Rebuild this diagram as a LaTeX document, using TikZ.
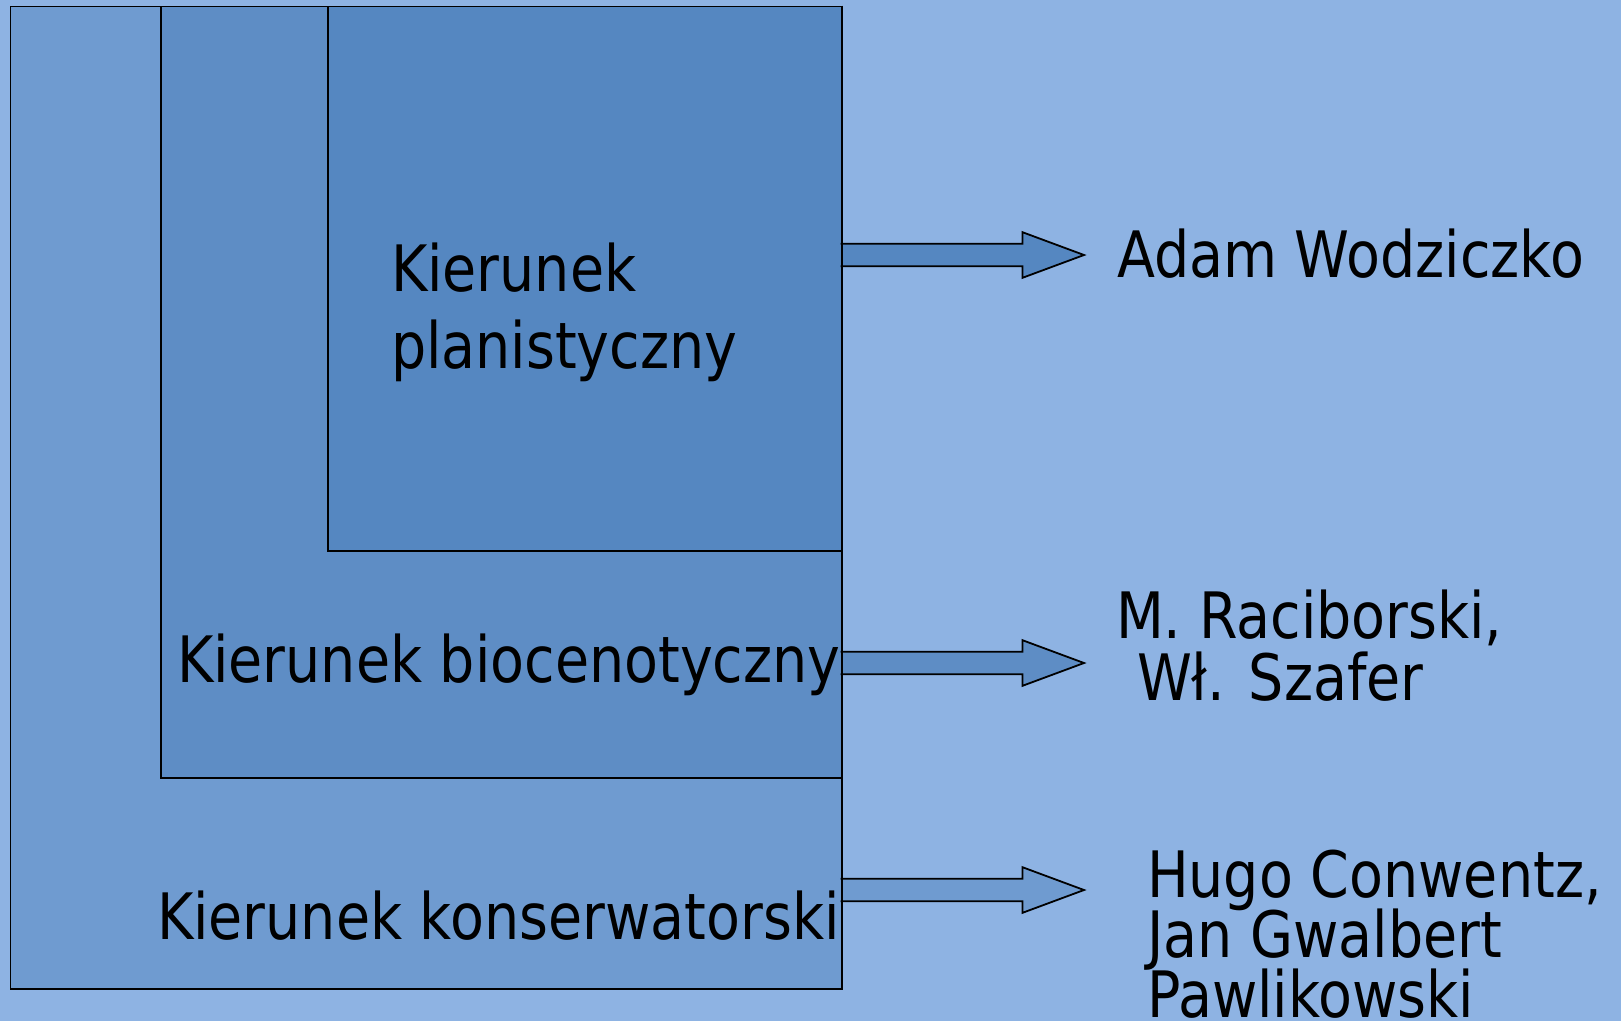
\documentclass[tikz,border=0pt]{standalone}
\usepackage{fontspec}
\setmainfont[FakeStretch=0.867]{DejaVu Sans}
\definecolor{bgc}{HTML}{8EB3E3}
\definecolor{outerc}{HTML}{6F9BD0}
\definecolor{midc}{HTML}{5E8DC5}
\definecolor{innerc}{HTML}{5587C1}
\tikzset{
  boxst/.style={draw=black, line width=1.8pt},
  blockarrow/.style={draw=black, line width=1.8pt, line join=miter},
  lbl/.style={anchor=base west, inner sep=0pt, outer sep=0pt, text=black,
    font=\fontsize{64}{77}\selectfont},
}
\begin{document}
\begin{tikzpicture}[x=1pt,y=-1pt]
\fill[bgc] (0,0) rectangle (1621,1021);
\useasboundingbox (0,0) rectangle (1621,1021);
% nested boxes
\node[boxst, fill=outerc, minimum width=831pt, minimum height=982.8pt, anchor=north west, inner sep=0pt] (outer) at (9.5,5.5) {};
\node[boxst, fill=midc, minimum width=680.5pt, minimum height=771.2pt, anchor=north west, inner sep=0pt] (mid) at (160,5.5) {};
\node[boxst, fill=innerc, minimum width=513.5pt, minimum height=544.5pt, anchor=north west, inner sep=0pt] (inner) at (327,5.5) {};
% box labels
\node[lbl] (plan1) at (391,291) {Kierunek};
\node[lbl] (plan2) at (391,368) {planistyczny};
\node[lbl] (bio) at (177,682) {Kierunek biocenotyczny};
\node[lbl] (kons) at (157,939) {Kierunek konserwatorski};
% right labels
\node[lbl] (adam) at (1117,277) {Adam Wodziczko};
\node[lbl] (rac1) at (1116,638) {M. Raciborski,};
\node[lbl] (rac2) at (1137,700) {Wł. Szafer};
\node[lbl] (hugo1) at (1147,897) {Hugo Conwentz,};
\node[lbl] (hugo2) at (1147,957) {Jan Gwalbert};
\node[lbl] (hugo3) at (1147,1017) {Pawlikowski};
% arrow start points on the common right edge
\coordinate (s1) at (840.5,255);
\coordinate (s2) at (840.5,663);
\coordinate (s3) at (840.5,890);
\foreach \s/\c in {s1/innerc, s2/midc, s3/outerc}{
  \draw[blockarrow, fill=\c] (\s) ++(0,-11.3) -- ++(182,0) -- ++(0,-11.5)
     -- ++(61.5,22.8) -- ++(-61.5,22.8) -- ++(0,-11.5) -- ++(-182,0);
}
% redraw right edge of boxes over arrow starts
\draw[line width=1.8pt] (outer.north east) -- (outer.south east);
\end{tikzpicture}
\end{document}
